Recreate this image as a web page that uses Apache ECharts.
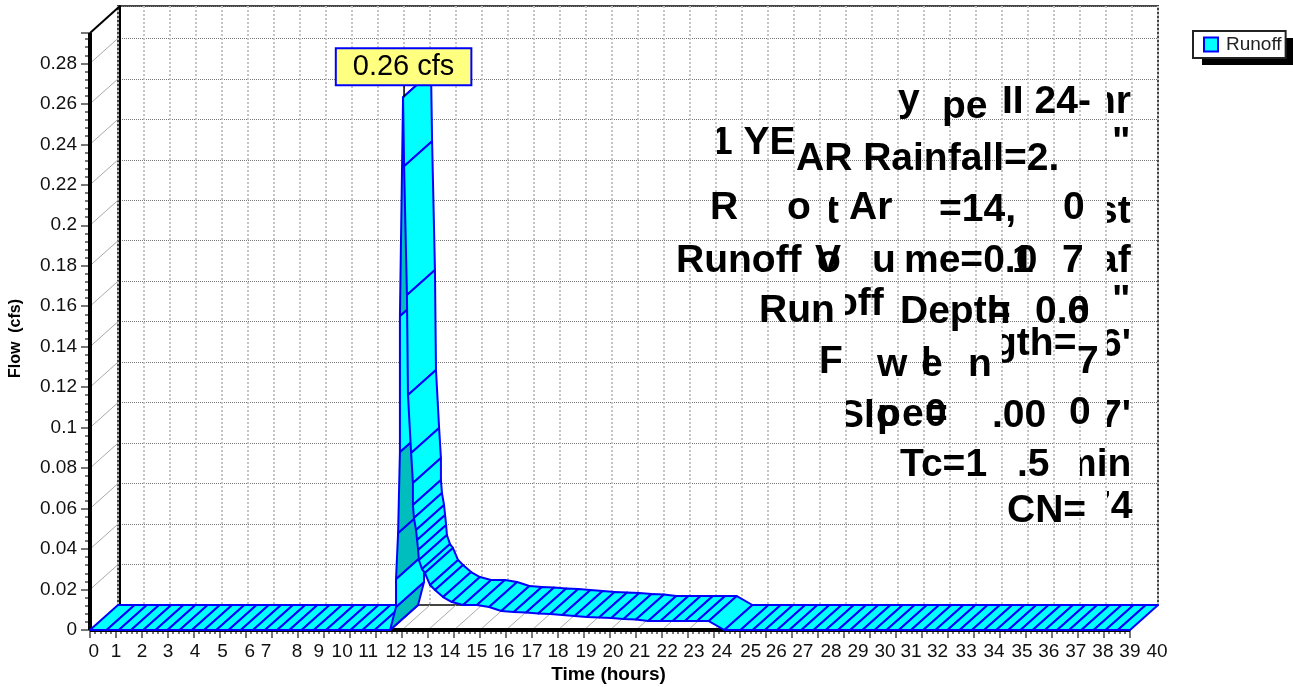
<!DOCTYPE html>
<html>
<head>
<meta charset="utf-8">
<title>Runoff</title>
<script src="https://cdn.jsdelivr.net/npm/echarts@6/dist/echarts.min.js"></script>
<style>
html, body { margin: 0; padding: 0; background: #ffffff; }
#chart { width: 1293px; height: 687px; }
</style>
</head>
<body>
<div id="chart"></div>
<script>
// hydrograph, one entry per cross line of the ribbon
var hours = [0, 0.64, 1.11, 1.58, 2.05, 2.52, 2.98, 3.45, 3.92, 4.39, 4.86, 5.33, 5.8, 6.27, 6.73, 7.2, 7.67, 8.14, 8.61, 9.08, 9.55, 10.02, 10.48, 10.95,
	11.54, 11.77, 11.77, 11.85, 11.92, 11.92, 12.04,
	12.08, 12.19, 12.23, 12.35, 12.42, 12.42, 12.46, 12.54, 12.58, 12.62, 12.65, 12.77, 12.88, 13.08, 13.27, 13.58, 13.92, 14.35, 14.88,
	15.35, 15.82, 16.3, 16.77, 17.24, 17.7, 18.17, 18.64, 19.1, 19.58, 20.05, 20.52, 21, 21.47, 21.94, 22.41, 22.88, 23.35, 23.8, 24.4,
	25.02, 25.49, 25.96, 26.43, 26.9, 27.36, 27.83, 28.3, 28.77, 29.24, 29.71, 30.18, 30.64, 31.11, 31.58, 32.05, 32.52, 32.98, 33.45, 33.92, 34.39, 34.86, 35.32, 35.79, 36.26, 36.73, 37.2, 37.66, 38.13, 38.6, 39.06, 39.53, 40];
var flows = [0, 0, 0, 0, 0, 0, 0, 0, 0, 0, 0, 0, 0, 0, 0, 0, 0, 0, 0, 0, 0, 0, 0, 0,
	0, 0.0114, 0.0252, 0.0479, 0.0879, 0.1551, 0.2633,
	0.2292, 0.1655, 0.1161, 0.0875, 0.0726, 0.0618, 0.0553, 0.0494, 0.0445, 0.0395, 0.0346, 0.0301, 0.0282, 0.0222, 0.0198, 0.0163, 0.0138, 0.0124, 0.0124,
	0.0114, 0.0094, 0.0089, 0.0086, 0.0082, 0.0079, 0.0074, 0.0069, 0.0064, 0.0062, 0.0059, 0.0054, 0.0052, 0.0044, 0.0044, 0.0044, 0.0044, 0.0044, 0.0044, 0,
	0, 0, 0, 0, 0, 0, 0, 0, 0, 0, 0, 0, 0, 0, 0, 0, 0, 0, 0, 0, 0, 0, 0, 0, 0, 0, 0, 0, 0, 0, 0, 0, 0];
var shadedSegments = [24, 26, 27, 29];

var peakHour = 12.08;
var peakFlow = 0.2633;
var peakLabel = "0.26 cfs";

var flowTicks = [0.02, 0.04, 0.06, 0.08, 0.1, 0.12, 0.14, 0.16, 0.18, 0.2, 0.22, 0.24, 0.26, 0.28];
var hourTicks = [0, 1, 2, 3, 4, 5, 6, 7, 8, 9, 10, 11, 12, 13, 14, 15, 16, 17, 18, 19, 20, 21, 22, 23, 24, 25, 26, 27, 28, 29, 30, 31, 32, 33, 34, 35, 36, 37, 38, 39, 40];
// the hour labels do not sit on their ticks in the picture
var hourLabelSpots = [0.15, 1, 2, 3, 4.04, 5.1, 6.15, 6.77, 7.96, 8.8, 9.7, 10.7, 11.77, 12.8, 13.85, 14.88, 15.92, 17, 18, 19.08, 20.12, 21.15, 22.2, 23.23, 24.3, 25.42, 26.4, 27.42, 28.5, 29.54, 30.58, 31.58, 32.6, 33.7, 34.77, 35.85, 36.88, 37.92, 38.96, 40, 41.04];

// broken text block of the picture, piece by piece
var noteTexts = ["y", "pe", "II 24-", "hr",
	"1 YE", "AR Rainfall=2.", "\"",
	"R", "o", "t", "Ar", "=14,", "0", "st",
	"Runoff", "V", "o", "u", "me=0.0", "1", "7", "af",
	"Run", "off", "Depth", "=", "0.6", "0", "\"",
	"F", "w", "l", "e", "n", "gth=", "7", "6'",
	"Sl", "o", "p", "e", "0", "=", ".00", "0", "7'",
	"Tc=1", ".5", "min",
	"CN=", "74"];

var depthX = 28;
var depthY = -25;

// [left, baseline, clip left]
var noteSpots = [[898, 111], [942, 118], [1002, 113], [1092, 113, 1107],
	[711, 154, 717], [796, 170], [1112, 154],
	[710, 219], [787, 219], [826, 223, 829], [849, 219], [939, 221], [1063, 219], [1096, 223, 1107],
	[676, 272], [815, 272], [817, 272], [872, 272], [904, 272], [1012, 272], [1062, 272], [1096, 272, 1107],
	[759, 322], [834, 315, 845], [900, 323], [988, 323], [1035, 323], [1068, 323], [1112, 312],
	[819, 373], [877, 376], [921, 374], [921, 376], [968, 376], [993, 355, 1002], [1077, 373], [1100, 356, 1107],
	[838, 427, 846], [876, 426], [877, 426], [902, 426], [925, 426], [925, 426], [992, 427], [1069, 424], [1100, 427, 1107],
	[900, 476], [1017, 476], [1062, 476, 1080],
	[1007, 522], [1089, 518, 1107]];

function renderRibbon(params, api) {
	var i = params.dataIndex;
	if (i >= hours.length - 1) {
		return null;
	}
	var a = api.coord([hours[i], flows[i]]);
	var b = api.coord([hours[i + 1], flows[i + 1]]);
	return {
		type: 'polygon',
		shape: {
			points: [a, b, [b[0] + depthX, b[1] + depthY], [a[0] + depthX, a[1] + depthY]]
		},
		style: {
			fill: shadedSegments.indexOf(i) >= 0 ? '#00bebe' : '#00ffff',
			stroke: '#0000ff',
			lineWidth: 2,
			lineJoin: 'round'
		}
	};
}

// axis bars and the thin lines of the left wall and the floor
function renderDepthLines(params, api) {
	var children = [];
	function addLine(p, dx, dy, color, width) {
		children.push({
			type: 'line',
			shape: {x1: p[0], y1: p[1], x2: p[0] + dx, y2: p[1] + dy},
			style: {stroke: color, lineWidth: width}
		});
	}
	for (var i = 0; i < flowTicks.length; i++) {
		addLine(api.coord([0, flowTicks[i]]), depthX, depthY, '#aaaaaa', 1);
	}
	for (var j = 1; j < hourTicks.length; j++) {
		addLine(api.coord([hourTicks[j], 0]), depthX, depthY, '#aaaaaa', 1);
	}
	var origin = api.coord([0, 0]);
	var top = api.coord([0, 0.295]);
	var end = api.coord([40, 0]);
	addLine(top, 30, -27, '#000000', 2);
	addLine(origin, 0, top[1] - origin[1], '#000000', 4);
	addLine(origin, end[0] - origin[0], 0, '#000000', 4);
	return {type: 'group', children: children};
}

function renderNotes(params, api) {
	var children = [];
	for (var i = 0; i < noteTexts.length; i++) {
		var spot = noteSpots[i];
		var el = {
			type: 'text',
			x: spot[0],
			y: spot[1] - 30,
			style: {
				text: noteTexts[i],
				font: 'bold 39px "Liberation Sans", Arial, sans-serif',
				fill: '#000000',
				textAlign: 'left',
				textVerticalAlign: 'top'
			}
		};
		if (spot[2]) {
			el.clipPath = {type: 'rect', shape: {x: spot[2] - spot[0], y: -20, width: 120, height: 90}};
		}
		children.push(el);
	}
	return {type: 'group', children: children};
}

var tickFont = '"Liberation Sans", Arial, sans-serif';

var option = {
	animation: false,
	backgroundColor: '#ffffff',
	textStyle: {fontFamily: tickFont},
	graphic: [
		// drop shadow of the legend box
		{type: 'rect', z: 0, shape: {x: 1202, y: 38, width: 91, height: 27}, style: {fill: '#000000'}}
	],
	legend: {
		left: 1193,
		top: 31,
		padding: [4, 4, 4, 10],
		itemWidth: 14,
		itemHeight: 14,
		itemGap: 0,
		z: 4,
		selectedMode: false,
		backgroundColor: '#ffffff',
		borderColor: '#222222',
		borderWidth: 2,
		borderRadius: 0,
		textStyle: {fontSize: 19, color: '#222222', padding: [0, 0, 0, 3]},
		data: [{name: 'Runoff', icon: 'rect', itemStyle: {color: '#00ffff', borderColor: '#0000ff', borderWidth: 2}}]
	},
	grid: [
		// back wall
		{left: 118, right: 135, top: 6, bottom: 82, show: true, borderColor: '#444444', borderWidth: 2, backgroundColor: '#ffffff', outerBoundsMode: 'none'},
		// front plane
		{left: 90, right: 163, top: 33, bottom: 57, outerBoundsMode: 'none'},
		// labels of the hour axis run past the last tick, flow title sits lower than the axis centre
		{left: 90, right: 135, top: 47, bottom: 57, outerBoundsMode: 'none'}
	],
	xAxis: [
		{
			gridIndex: 0, type: 'value', min: 0, max: 40, interval: 1,
			axisLabel: {show: false}, axisTick: {show: false},
			axisLine: {show: true, lineStyle: {color: '#444444', width: 2}},
			splitLine: {show: true, lineStyle: {type: 'dotted', color: '#c4c4c4', width: 2}}
		},
		{
			gridIndex: 1, type: 'value', min: 0, max: 40, interval: 1,
			name: 'Time (hours)', nameLocation: 'middle', nameGap: 35,
			nameTextStyle: {fontWeight: 'bold', fontSize: 19, color: '#000000', fontFamily: tickFont, padding: [0, 3, 0, 0]},
			axisLabel: {show: false},
			axisLine: {show: false},
			axisTick: {show: true, length: 8, lineStyle: {color: '#777777', width: 2}},
			minorTick: {show: true, splitNumber: 5, length: 4, lineStyle: {color: '#777777', width: 2}},
			splitLine: {show: false}
		},
		{
			gridIndex: 2, type: 'value', min: 0, max: 41.08,
			axisLine: {show: false},
			axisTick: {show: false},
			splitLine: {show: false},
			axisLabel: {
				show: true,
				customValues: hourLabelSpots,
				hideOverlap: false,
				margin: 12,
				fontSize: 19,
				color: '#111111',
				fontFamily: tickFont,
				formatter: function (value) {
					return String(hourLabelSpots.indexOf(value));
				}
			}
		}
	],
	yAxis: [
		{
			gridIndex: 0, type: 'value', min: 0, max: 0.296, interval: 0.02, offset: -1.5,
			axisLabel: {show: false}, axisTick: {show: false},
			axisLine: {show: true, lineStyle: {color: '#000000', width: 2}},
			splitLine: {show: true, lineStyle: {type: 'dotted', color: '#777777', width: 1}}
		},
		{
			gridIndex: 1, type: 'value', min: 0, max: 0.295, interval: 0.02,
			axisLine: {show: false},
			axisTick: {show: true, length: 9, lineStyle: {color: '#777777', width: 2}},
			minorTick: {show: true, splitNumber: 5, length: 5, lineStyle: {color: '#777777', width: 2}},
			axisLabel: {margin: 13, fontSize: 19, color: '#111111', fontFamily: tickFont, showMaxLabel: false},
			splitLine: {show: false}
		},
		{
			gridIndex: 2, type: 'value', min: 0, max: 0.295,
			name: 'Flow  (cfs)', nameLocation: 'middle', nameGap: 66, nameRotate: 90,
			nameTextStyle: {fontWeight: 'bold', fontSize: 16, color: '#000000', fontFamily: tickFont},
			axisLine: {show: false}, axisTick: {show: false}, axisLabel: {show: false}, splitLine: {show: false}
		}
	],
	series: [
		{
			name: 'walls', type: 'custom', xAxisIndex: 1, yAxisIndex: 1, z: 1, silent: true, clip: false,
			renderItem: renderDepthLines, data: [[0, 0]]
		},
		{
			name: 'Runoff', type: 'custom', xAxisIndex: 1, yAxisIndex: 1, z: 3, silent: true, clip: false,
			renderItem: renderRibbon,
			encode: {x: 0, y: 1},
			itemStyle: {color: '#00ffff'},
			data: hours.map(function (h, i) { return [h, flows[i]]; })
		},
		{
			name: 'peak', type: 'scatter', xAxisIndex: 1, yAxisIndex: 1, z: 5, silent: true,
			symbol: 'rect', symbolSize: [1.5, 12], symbolOffset: [0, -6],
			itemStyle: {color: '#000000', opacity: 1},
			label: {
				show: true, position: 'top', distance: 0, offset: [-0.5, -1],
				formatter: peakLabel,
				fontSize: 29,
				color: '#000000',
				opacity: 1,
				fontFamily: tickFont,
				backgroundColor: '#ffff80',
				borderColor: '#0000ff',
				borderWidth: 2,
				padding: [3, 16]
			},
			data: [[peakHour, peakFlow]]
		},
		{
			name: 'notes', type: 'custom', coordinateSystem: 'none', z: 6, silent: true, clip: false,
			renderItem: renderNotes, data: [[0]]
		}
	]
};

var chart = echarts.init(document.getElementById('chart'));
chart.setOption(option);
</script>
</body>
</html>
